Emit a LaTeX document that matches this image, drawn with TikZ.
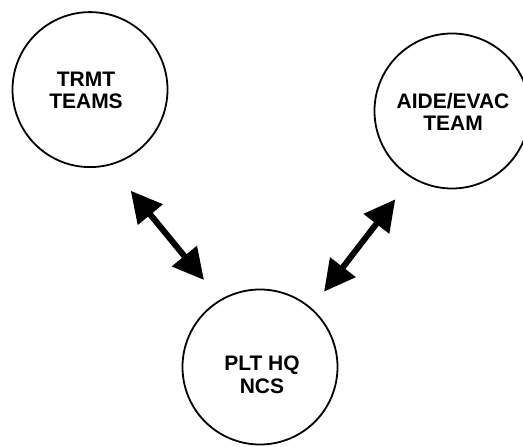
\documentclass[tikz,border=0pt]{standalone}
\usepackage{fontspec}
\setmainfont{Liberation Sans}
\usetikzlibrary{arrows.meta}
\begin{document}
\begin{tikzpicture}[x=1pt,y=-1pt,
  ring/.style={draw=black,circle,line width=1.8pt,minimum size=155pt,inner sep=0pt},
  lbl/.style={align=center,font=\fontsize{21}{22.5}\selectfont\bfseries,inner sep=0pt},
  link/.style={line width=6pt,{Triangle[length=31pt,width=31pt]}-{Triangle[length=31pt,width=31pt]}}]
\useasboundingbox (0,0) rectangle (523,447);
\node[ring] (trmt) at (90,89.6) {};
\node[ring] (aide) at (452,111) {};
\node[ring] (plt) at (260,367) {};
\node[lbl] (trmtt) at (86,90.5) {TRMT\\TEAMS};
\node[lbl] (aidet) at (453,112) {AIDE/EVAC\\TEAM};
\node[lbl] (pltt) at (262,375) {PLT HQ\\NCS};
\coordinate (a1) at (130.7,190.7);
\coordinate (a2) at (204,280);
\coordinate (b1) at (395.3,199.3);
\coordinate (b2) at (324,291.7);
\draw[link] (a1) -- (a2);
\draw[link] (b1) -- (b2);
\end{tikzpicture}
\end{document}
